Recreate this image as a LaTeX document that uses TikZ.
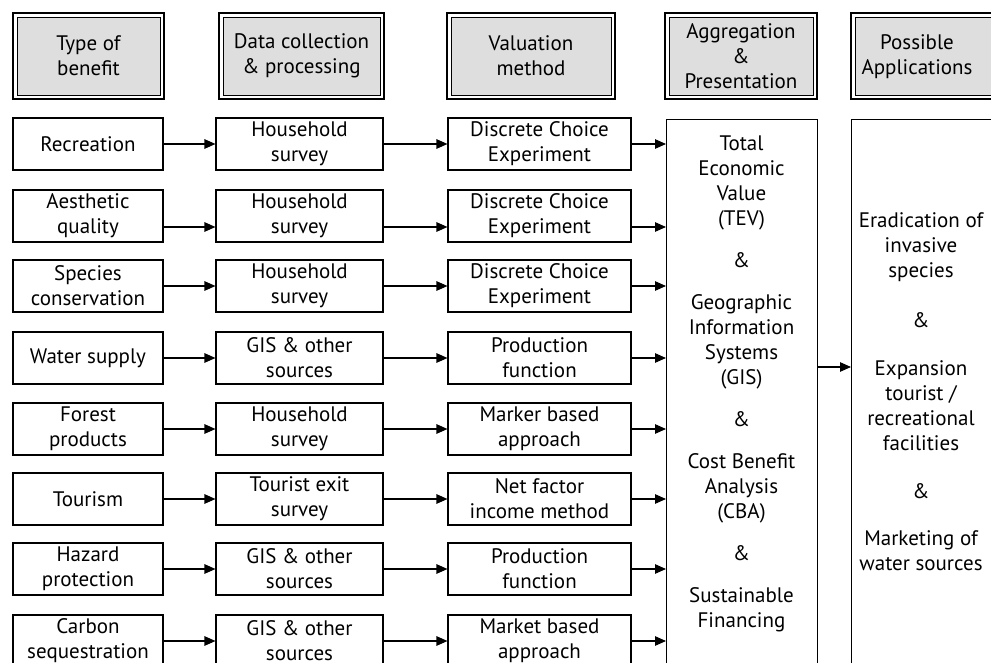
\documentclass[tikz,border=0pt]{standalone}
\usepackage{fontspec}
\setmainfont{PT Sans}
\usetikzlibrary{arrows.meta}
\definecolor{hdrgray}{HTML}{DEDEDE}
\newcommand\dfont{\fontsize{21pt}{25pt}\selectfont}
\begin{document}
\begin{tikzpicture}[x=1pt,y=-1pt,
  box/.style={draw, line width=1.1pt, align=center, minimum height=52pt, inner sep=0pt, font=\dfont},
  c1/.style={box, minimum width=150pt},
  c2/.style={box, minimum width=167pt},
  c3/.style={box, minimum width=183pt},
  hdr/.style={draw, line width=0.8pt, fill=hdrgray, align=center, minimum height=78pt, inner sep=0pt, font=\dfont},
  outer/.style={line width=1.8pt},
  txt/.style={align=center, inner sep=0pt, font=\dfont},
  arr/.style={line width=1.1pt, -{Triangle[length=11pt,width=9.5pt]}}]
\useasboundingbox (0,0) rectangle (991,663);
\clip (0,0) rectangle (991,663);

% headers
\node[hdr, minimum width=143pt] (h1) at (88.5,56) {Type of\\benefit};
\node[hdr, minimum width=157pt] (h2) at (301.5,56) {Data collection\\\& processing};
\node[hdr, minimum width=160pt] (h3) at (531,56) {Valuation\\method};
\node[hdr, minimum width=144pt] (h4) at (741,56) {Aggregation\\\&\\Presentation};
\node[hdr, minimum width=155pt] (h5) at (932.5,56) {};
\node[txt] (h5t) at (917,57) {Possible\\Applications};
\foreach \h in {h1,h2,h3,h4,h5}
  \draw[outer] ([shift={(-3.5pt,3.5pt)}]\h.north west) rectangle ([shift={(3.5pt,-3.5pt)}]\h.south east);

% row boxes
\node[c1] (b1) at (88,144) {Recreation};
\node[c2] (d1) at (299.5,144) {Household\\survey};
\node[c3] (v1) at (539.5,144) {Discrete Choice\\Experiment};

\node[c1] (b2) at (88,216) {Aesthetic\\quality};
\node[c2] (d2) at (299.5,216) {Household\\survey};
\node[c3] (v2) at (539.5,216) {Discrete Choice\\Experiment};

\node[c1] (b3) at (88,286) {Species\\conservation};
\node[c2] (d3) at (299.5,286) {Household\\survey};
\node[c3] (v3) at (539.5,286) {Discrete Choice\\Experiment};

\node[c1] (b4) at (88,358) {Water supply};
\node[c2] (d4) at (299.5,358) {GIS \& other\\sources};
\node[c3] (v4) at (539.5,358) {Production\\function};

\node[c1] (b5) at (88,429) {Forest\\products};
\node[c2] (d5) at (299.5,429) {Household\\survey};
\node[c3] (v5) at (539.5,429) {Marker based\\approach};

\node[c1] (b6) at (88,499) {Tourism};
\node[c2] (d6) at (299.5,499) {Tourist exit\\survey};
\node[c3] (v6) at (539.5,499) {Net factor\\income method};

\node[c1] (b7) at (88,569) {Hazard\\protection};
\node[c2] (d7) at (299.5,569) {GIS \& other\\sources};
\node[c3] (v7) at (539.5,569) {Production\\function};

\node[c1] (b8) at (88,641) {Carbon\\sequestration};
\node[c2] (d8) at (299.5,641) {GIS \& other\\sources};
\node[c3] (v8) at (539.5,641) {Market based\\approach};

% big boxes
\node[draw, line width=1.1pt, minimum width=151pt, minimum height=600pt, anchor=north west, inner sep=0pt] (agg) at (666,119) {};
\node[draw, line width=1.1pt, minimum width=170pt, minimum height=600pt, anchor=north west, inner sep=0pt] (app) at (851,119) {};

\node[txt, anchor=north] (aggt) at (741.5,136) {Total\\Economic\\Value\\(TEV)\\[17pt]\&\\[17pt]Geographic\\Information\\Systems\\(GIS)\\[17pt]\&\\[17pt]Cost Benefit\\Analysis\\(CBA)\\[17pt]\&\\[17pt]Sustainable\\Financing};
\node[txt, anchor=north] (appt) at (921,212) {Eradication of\\invasive\\species\\[25pt]\&\\[23pt]Expansion\\tourist /\\recreational\\facilities\\[23pt]\&\\[22pt]Marketing of\\water sources};

% arrows
\foreach \i in {1,3,4,5,6,7,8}{
  \draw[arr] (b\i.east) -- (d\i.west);
  \draw[arr] (d\i.east) -- (v\i.west);
  \draw[arr] (v\i.east) -- (v\i.east -| agg.west);
}
\draw[arr] ([yshift=-11pt]b2.east) -- ([yshift=-11pt]d2.west);
\draw[arr] ([yshift=-11pt]d2.east) -- ([yshift=-11pt]v2.west);
\draw[arr] ([yshift=-11pt]v2.east) -- ([yshift=-11pt]v2.east -| agg.west);

\coordinate (am) at (830,367);
\draw[arr] (agg.east |- am) -- (app.west |- am);
\end{tikzpicture}
\end{document}
